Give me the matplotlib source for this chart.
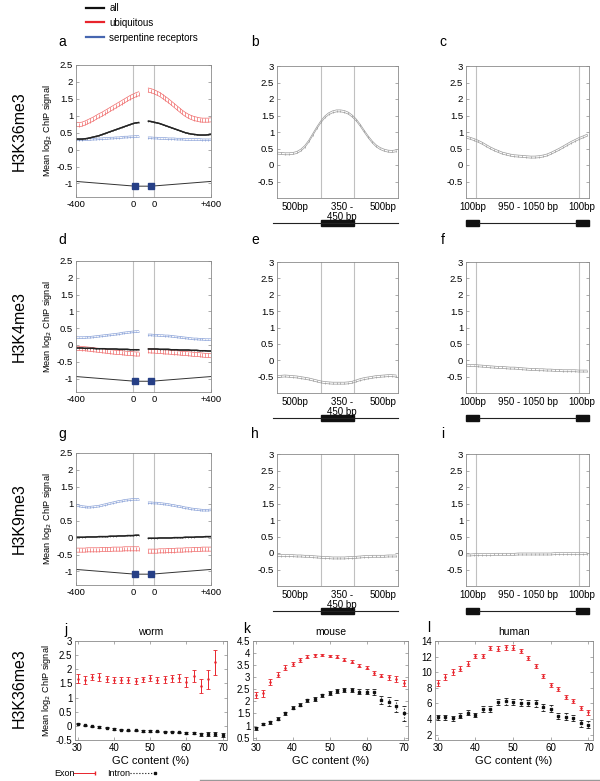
import numpy as np
import matplotlib
matplotlib.use('Agg')
import matplotlib.pyplot as plt
from matplotlib.lines import Line2D
from matplotlib.patches import Rectangle
from matplotlib.ticker import FuncFormatter

plt.rcParams['font.family'] = ['Liberation Sans', 'DejaVu Sans']

# ---------------- data ----------------
# a, d, g : distance (bp) from exon start / exon end
pos_left = np.arange(-400, 41, 20)
pos_right = np.arange(-40, 401, 20)
exon_mark_left = 15
exon_mark_right = -20

a_ubq_l = [0.75, 0.74, 0.75, 0.78, 0.82, 0.86, 0.90, 0.95, 1.00, 1.04, 1.09, 1.14, 1.19, 1.24, 1.29, 1.34, 1.39, 1.44, 1.49, 1.54, 1.58, 1.62, 1.65]
a_ubq_r = [1.76, 1.74, 1.71, 1.67, 1.63, 1.57, 1.51, 1.45, 1.38, 1.31, 1.24, 1.17, 1.10, 1.04, 0.99, 0.95, 0.92, 0.90, 0.88, 0.87, 0.87, 0.87, 0.88]
a_all_l = [0.31, 0.31, 0.31, 0.32, 0.33, 0.35, 0.37, 0.39, 0.41, 0.44, 0.47, 0.50, 0.53, 0.56, 0.59, 0.62, 0.65, 0.68, 0.71, 0.74, 0.77, 0.79, 0.80]
a_all_r = [0.84, 0.83, 0.81, 0.79, 0.77, 0.74, 0.71, 0.68, 0.65, 0.62, 0.59, 0.56, 0.53, 0.50, 0.48, 0.46, 0.45, 0.44, 0.43, 0.43, 0.43, 0.44, 0.45]
a_srp_l = [0.29, 0.29, 0.29, 0.30, 0.30, 0.30, 0.31, 0.31, 0.32, 0.32, 0.33, 0.33, 0.34, 0.34, 0.35, 0.35, 0.36, 0.37, 0.37, 0.38, 0.38, 0.39, 0.39]
a_srp_r = [0.35, 0.35, 0.34, 0.34, 0.33, 0.33, 0.33, 0.32, 0.32, 0.32, 0.31, 0.31, 0.31, 0.30, 0.30, 0.30, 0.30, 0.30, 0.30, 0.29, 0.29, 0.29, 0.29]

d_ubq_l = [-0.10, -0.10, -0.11, -0.11, -0.12, -0.13, -0.14, -0.15, -0.16, -0.17, -0.18, -0.19, -0.20, -0.21, -0.22, -0.22, -0.23, -0.24, -0.25, -0.25, -0.26, -0.27, -0.27]
d_ubq_r = [-0.17, -0.18, -0.18, -0.19, -0.19, -0.20, -0.21, -0.21, -0.22, -0.23, -0.23, -0.24, -0.25, -0.25, -0.26, -0.27, -0.28, -0.28, -0.29, -0.30, -0.31, -0.31, -0.32]
d_all_l = [-0.09, -0.09, -0.09, -0.10, -0.10, -0.10, -0.10, -0.11, -0.11, -0.11, -0.11, -0.12, -0.12, -0.12, -0.12, -0.13, -0.13, -0.13, -0.13, -0.14, -0.14, -0.14, -0.14]
d_all_r = [-0.12, -0.12, -0.12, -0.12, -0.13, -0.13, -0.13, -0.13, -0.14, -0.14, -0.14, -0.15, -0.15, -0.15, -0.15, -0.16, -0.16, -0.16, -0.17, -0.17, -0.17, -0.18, -0.18]
d_srp_l = [0.22, 0.22, 0.22, 0.22, 0.23, 0.23, 0.24, 0.25, 0.26, 0.27, 0.28, 0.29, 0.30, 0.31, 0.32, 0.33, 0.35, 0.36, 0.37, 0.38, 0.39, 0.40, 0.40]
d_srp_r = [0.30, 0.30, 0.29, 0.29, 0.28, 0.28, 0.27, 0.27, 0.26, 0.25, 0.24, 0.23, 0.22, 0.21, 0.20, 0.19, 0.18, 0.18, 0.17, 0.17, 0.16, 0.16, 0.16]

g_ubq_l = [-0.37, -0.37, -0.37, -0.37, -0.36, -0.36, -0.36, -0.36, -0.36, -0.35, -0.35, -0.35, -0.35, -0.34, -0.34, -0.34, -0.34, -0.33, -0.33, -0.33, -0.33, -0.33, -0.33]
g_ubq_r = [-0.40, -0.40, -0.40, -0.40, -0.39, -0.39, -0.39, -0.38, -0.38, -0.38, -0.37, -0.37, -0.37, -0.36, -0.36, -0.36, -0.35, -0.35, -0.35, -0.34, -0.34, -0.34, -0.34]
g_all_l = [0.01, 0.01, 0.01, 0.01, 0.02, 0.02, 0.02, 0.02, 0.03, 0.03, 0.03, 0.03, 0.04, 0.04, 0.04, 0.05, 0.05, 0.05, 0.06, 0.06, 0.06, 0.07, 0.07]
g_all_r = [-0.02, -0.02, -0.02, -0.02, -0.01, -0.01, -0.01, -0.01, -0.01, 0.00, 0.00, 0.00, 0.00, 0.01, 0.01, 0.01, 0.01, 0.02, 0.02, 0.02, 0.03, 0.03, 0.03]
g_srp_l = [0.96, 0.94, 0.92, 0.91, 0.90, 0.90, 0.91, 0.92, 0.93, 0.95, 0.97, 0.99, 1.01, 1.03, 1.05, 1.07, 1.08, 1.10, 1.11, 1.12, 1.13, 1.13, 1.13]
g_srp_r = [1.03, 1.03, 1.02, 1.02, 1.01, 1.00, 0.99, 0.98, 0.96, 0.95, 0.93, 0.92, 0.90, 0.88, 0.87, 0.85, 0.84, 0.83, 0.82, 0.81, 0.81, 0.81, 0.82]

# b, e, h : exon profile (bins) ; c, f, i : intron profile (bins)
bins = np.arange(0, 61, 2)
exon_bounds = [22, 39]
intron_bounds = [5, 56]
b_exon = [0.36, 0.35, 0.34, 0.34, 0.35, 0.38, 0.45, 0.56, 0.72, 0.92, 1.12, 1.30, 1.45, 1.55, 1.61, 1.64, 1.64, 1.62, 1.57, 1.48, 1.36, 1.20, 1.02, 0.85, 0.70, 0.58, 0.50, 0.45, 0.42, 0.41, 0.43]
c_intron = [0.85, 0.81, 0.77, 0.72, 0.66, 0.59, 0.52, 0.46, 0.41, 0.36, 0.33, 0.30, 0.28, 0.27, 0.26, 0.25, 0.24, 0.24, 0.25, 0.27, 0.30, 0.35, 0.41, 0.47, 0.54, 0.61, 0.68, 0.74, 0.80, 0.85, 0.90]
e_exon = [-0.50, -0.49, -0.48, -0.49, -0.50, -0.51, -0.53, -0.55, -0.57, -0.60, -0.63, -0.66, -0.68, -0.69, -0.70, -0.70, -0.70, -0.70, -0.69, -0.67, -0.63, -0.59, -0.56, -0.54, -0.52, -0.50, -0.49, -0.48, -0.47, -0.47, -0.48]
f_intron = [-0.15, -0.16, -0.16, -0.17, -0.18, -0.19, -0.20, -0.21, -0.22, -0.22, -0.23, -0.24, -0.24, -0.25, -0.26, -0.27, -0.28, -0.28, -0.29, -0.29, -0.30, -0.30, -0.31, -0.31, -0.32, -0.32, -0.32, -0.32, -0.33, -0.33, -0.33]
h_exon = [-0.08, -0.08, -0.08, -0.08, -0.08, -0.09, -0.09, -0.10, -0.10, -0.11, -0.12, -0.13, -0.14, -0.14, -0.15, -0.15, -0.15, -0.15, -0.14, -0.14, -0.13, -0.12, -0.11, -0.11, -0.10, -0.10, -0.10, -0.10, -0.09, -0.09, -0.09]
i_intron = [-0.06, -0.06, -0.05, -0.05, -0.05, -0.05, -0.05, -0.04, -0.04, -0.04, -0.04, -0.04, -0.04, -0.03, -0.03, -0.03, -0.03, -0.03, -0.03, -0.03, -0.03, -0.03, -0.02, -0.02, -0.02, -0.02, -0.02, -0.02, -0.02, -0.02, -0.02]

# j, k, l : GC content
gc = np.arange(30, 71, 2)
worm_exon = [1.67, 1.62, 1.73, 1.73, 1.67, 1.62, 1.62, 1.63, 1.58, 1.64, 1.69, 1.63, 1.64, 1.68, 1.68, 1.55, 1.75, 1.40, 1.64, 2.24]
worm_exon_err = [0.17, 0.15, 0.12, 0.13, 0.11, 0.11, 0.11, 0.11, 0.10, 0.10, 0.10, 0.10, 0.12, 0.12, 0.14, 0.17, 0.21, 0.25, 0.33, 0.45]
worm_intron = [0.08, 0.02, -0.01, -0.04, -0.07, -0.11, -0.13, -0.15, -0.16, -0.18, -0.18, -0.19, -0.20, -0.20, -0.23, -0.24, -0.25, -0.30, -0.29, -0.29, -0.31]
worm_intron_err = [0.02, 0.02, 0.02, 0.02, 0.02, 0.02, 0.02, 0.02, 0.02, 0.02, 0.02, 0.02, 0.02, 0.03, 0.03, 0.04, 0.04, 0.05, 0.06, 0.06, 0.07]
mouse_exon = [2.26, 2.33, 2.80, 3.10, 3.40, 3.55, 3.72, 3.85, 3.90, 3.92, 3.88, 3.85, 3.73, 3.65, 3.47, 3.40, 3.18, 3.07, 3.00, 2.93, 2.75]
mouse_exon_err = [0.13, 0.13, 0.11, 0.10, 0.09, 0.08, 0.07, 0.07, 0.06, 0.06, 0.06, 0.06, 0.06, 0.06, 0.06, 0.07, 0.07, 0.08, 0.10, 0.11, 0.13]
mouse_intron = [0.88, 1.07, 1.13, 1.29, 1.50, 1.73, 1.86, 2.04, 2.10, 2.25, 2.33, 2.43, 2.47, 2.47, 2.40, 2.40, 2.38, 2.07, 1.98, 1.80, 1.50]
mouse_intron_err = [0.05, 0.05, 0.05, 0.05, 0.06, 0.06, 0.06, 0.06, 0.07, 0.07, 0.08, 0.08, 0.09, 0.09, 0.10, 0.11, 0.13, 0.16, 0.19, 0.24, 0.30]
human_exon = [8.64, 9.36, 10.0, 10.44, 11.1, 12.07, 12.07, 13.1, 13.0, 13.2, 13.15, 12.7, 11.8, 10.8, 9.5, 8.4, 7.8, 6.8, 6.3, 5.4, 4.85]
human_exon_err = [0.35, 0.35, 0.35, 0.3, 0.3, 0.3, 0.3, 0.3, 0.3, 0.3, 0.3, 0.3, 0.3, 0.3, 0.3, 0.25, 0.25, 0.25, 0.25, 0.25, 0.3]
human_intron = [4.2, 4.2, 4.1, 4.4, 4.8, 4.5, 5.3, 5.3, 6.2, 6.3, 6.2, 6.1, 6.0, 6.0, 5.5, 5.3, 4.4, 4.3, 4.1, 3.45, 3.25]
human_intron_err = [0.3, 0.3, 0.3, 0.3, 0.3, 0.3, 0.35, 0.35, 0.4, 0.45, 0.4, 0.4, 0.4, 0.45, 0.45, 0.45, 0.4, 0.4, 0.4, 0.45, 0.45]

row_names = ['H3K36me3', 'H3K4me3', 'H3K9me3', 'H3K36me3']
species = ['worm', 'mouse', 'human']
legend_names = ['all', 'ubiquitous', 'serpentine receptors']

# ---------------- style ----------------
W, H = 600, 781
GAP = 147
C_UBQ, C_SRP, C_ALL = '#f06a6a', '#8aa2d8', '#222222'
C_LEG = ['#111111', '#e8242c', '#4666b0']
C_GRAY = '#9a9a9a'
C_VL = '#c0c0c0'
C_SPINE = '#8a8a8a'
C_SQ = '#263f86'
TICK_FS = 6.8
fmt = FuncFormatter(lambda v, p: '%g' % round(v, 2))

fig = plt.figure(figsize=(W / 100, H / 100), dpi=100)


def box(l, t, r, b):
    return [l / W, 1 - b / H, (r - l) / W, (b - t) / H]


def style(ax):
    for s in ax.spines.values():
        s.set_color(C_SPINE)
        s.set_linewidth(0.6)
    ax.tick_params(direction='in', length=2, width=0.5, color=C_SPINE,
                   labelsize=TICK_FS, pad=2, top=True, right=True)
    ax.yaxis.set_major_formatter(fmt)


def ladder(ax, x, y, e, color, lw=0.5, mid=False):
    x = np.asarray(x)
    y = np.asarray(y)
    ax.plot(x, y + e, color=color, lw=lw)
    ax.plot(x, y - e, color=color, lw=lw)
    ax.vlines(x, y - e, y + e, color=color, lw=lw)
    if mid:
        ax.plot(x, y, color=color, lw=1.0)


def boundary_panel(ax, series):
    (ubq_l, ubq_r), (all_l, all_r), (srp_l, srp_r) = series
    ax.axvline(0, color=C_VL, lw=0.8)
    ax.axvline(GAP, color=C_VL, lw=0.8)
    ladder(ax, pos_left, ubq_l, 0.06, C_UBQ)
    ladder(ax, pos_right + GAP, ubq_r, 0.06, C_UBQ)
    ladder(ax, pos_left, srp_l, 0.025, C_SRP)
    ladder(ax, pos_right + GAP, srp_r, 0.025, C_SRP)
    ladder(ax, pos_left, all_l, 0.012, C_ALL, lw=0.4, mid=True)
    ladder(ax, pos_right + GAP, all_r, 0.012, C_ALL, lw=0.4, mid=True)
    # exon schematic
    ax.plot([-400, exon_mark_left, exon_mark_right + GAP, 400 + GAP],
            [-0.94, -1.08, -1.08, -0.94], color='#333333', lw=0.7)
    ax.plot([exon_mark_left, exon_mark_right + GAP], [-1.08, -1.08], 's',
            color=C_SQ, ms=4.6)
    ax.set_xlim(-400, 400 + GAP)
    ax.set_ylim(-1.4, 2.5)
    ax.set_yticks(np.arange(-1, 2.51, 0.5))
    ax.set_xticks([-400, 0, GAP, 400 + GAP])
    ax.set_xticklabels(['-400', '0', '0', '+400'])
    style(ax)
    ax.set_ylabel('Mean log$_2$ ChIP signal', fontsize=6.6, labelpad=2)


def profile_panel(ax, y, bounds, labels, label_pos, intron):
    for bnd in bounds:
        ax.axvline(bnd, color=C_VL, lw=0.8)
    ladder(ax, bins, y, 0.03, C_GRAY, lw=0.5)
    ax.set_xlim(0, 61)
    ax.set_ylim(-1, 3)
    ax.set_yticks(np.arange(-0.5, 3.01, 0.5))
    style(ax)
    ax.set_xticks(label_pos)
    ax.set_xticklabels(labels, fontsize=7, linespacing=1.0)
    ax.tick_params(axis='x', length=0, pad=3)
    tr = ax.get_xaxis_transform()
    yl = -0.188
    hh = 0.045
    if intron:
        ax.plot([bounds[0] + 1.4, bounds[1] - 1.4], [yl, yl], color='#222222',
                lw=0.8, transform=tr, clip_on=False)
        for x0, x1 in [(0, bounds[0] + 1.4), (bounds[1] - 1.4, 61)]:
            ax.add_patch(Rectangle((x0, yl - hh / 2), x1 - x0, hh, color='#111111',
                                   transform=tr, clip_on=False))
    else:
        ax.plot([-2, 61], [yl, yl], color='#222222', lw=0.8, transform=tr,
                clip_on=False)
        ax.add_patch(Rectangle((bounds[0], yl - hh / 2), bounds[1] - bounds[0], hh,
                               color='#111111', transform=tr, clip_on=False))


rows_top = [65, 261, 453]
rows_bot = [197, 392, 585]
boundary_data = [
    [(a_ubq_l, a_ubq_r), (a_all_l, a_all_r), (a_srp_l, a_srp_r)],
    [(d_ubq_l, d_ubq_r), (d_all_l, d_all_r), (d_srp_l, d_srp_r)],
    [(g_ubq_l, g_ubq_r), (g_all_l, g_all_r), (g_srp_l, g_srp_r)],
]
exon_data = [b_exon, e_exon, h_exon]
intron_data = [c_intron, f_intron, i_intron]
letters = [['a', 'b', 'c'], ['d', 'e', 'f'], ['g', 'h', 'i']]
letter_y = [42, 240, 434]

for r in range(3):
    t, b = rows_top[r], rows_bot[r]
    ax1 = fig.add_axes(box(76, t, 211, b))
    boundary_panel(ax1, boundary_data[r])
    ax2 = fig.add_axes(box(277, t + 1, 398, b + 1))
    profile_panel(ax2, exon_data[r], exon_bounds, ['500bp', '350 -\n450 bp', '500bp'],
                  [9.1, 32.8, 53.4], intron=False)
    ax3 = fig.add_axes(box(466, t + 1, 589, b + 1))
    profile_panel(ax3, intron_data[r], intron_bounds, ['100bp', '950 - 1050 bp', '100bp'],
                  [3.5, 30.7, 57.5], intron=True)
    for lx, let in zip([62, 255, 443], letters[r]):
        fig.text(lx / W, 1 - letter_y[r] / H, let, fontsize=10, ha='center', va='center')
    fig.text(19 / W, 1 - (t + b) / 2 / H, row_names[r], rotation=90, fontsize=11.5,
             ha='center', va='center')

# bottom row
gc_data = [(worm_exon, worm_exon_err, worm_intron, worm_intron_err),
           (mouse_exon, mouse_exon_err, mouse_intron, mouse_intron_err),
           (human_exon, human_exon_err, human_intron, human_intron_err)]
gc_boxes = [(75, 227), (253, 408), (435, 593)]
gc_ylim = [(-0.5, 3), (0.4, 4.5), (1.3, 14)]
gc_yticks = [np.arange(-0.5, 3.01, 0.5), np.arange(0.5, 4.51, 0.5), np.arange(2, 14.1, 2)]
gc_letters = [('j', 66, 630), ('k', 247, 629), ('l', 429, 628)]
for k in range(3):
    l, rr = gc_boxes[k]
    ax = fig.add_axes(box(l, 641, rr, 740))
    ex, exe, it, ite = gc_data[k]
    ax.errorbar(gc[:len(ex)], ex, yerr=exe, fmt='.', ms=1.6, color='#e8242c',
                elinewidth=0.7, capsize=1.2, capthick=0.6)
    eb = ax.errorbar(gc[:len(it)], it, yerr=ite, fmt='s', ms=1.5, color='#111111',
                     elinewidth=0.8, capsize=1.2, capthick=0.6)
    eb[2][0].set_linestyle(':')
    ax.set_xlim(29.3, 71.2)
    ax.set_ylim(*gc_ylim[k])
    ax.set_yticks(gc_yticks[k])
    ax.set_xticks([30, 40, 50, 60, 70])
    style(ax)
    ax.tick_params(labelsize=7)
    ax.set_xlabel('GC content (%)', fontsize=8, labelpad=2)
    ax.set_title(species[k], fontsize=7.5, pad=4)
    let, lx, ly = gc_letters[k]
    fig.text(lx / W, 1 - ly / H, let, fontsize=10, ha='center', va='center')
    if k == 0:
        ax.set_ylabel('Mean log$_2$ ChIP signal', fontsize=6.6, labelpad=2)

fig.text(19 / W, 1 - 688 / H, row_names[3], rotation=90, fontsize=11.5,
         ha='center', va='center')

# top legend
handles = [Line2D([], [], color=c, lw=1.6) for c in C_LEG]
fig.legend(handles, legend_names, loc='upper left', bbox_to_anchor=(86 / W, 1 - 3 / H),
           frameon=False, fontsize=7, handlelength=1.8, handletextpad=0.6,
           labelspacing=0.5, borderaxespad=0, borderpad=0)

# bottom legend
ly = 1 - 773 / H
fig.text(54 / W, ly, 'Exon', fontsize=6.5, va='center', ha='left')
fig.add_artist(Line2D([74 / W, 95 / W], [ly, ly], color='#e8242c', lw=0.7,
                      marker='|', ms=3, markevery=[1]))
fig.text(107 / W, ly, 'Intron', fontsize=6.5, va='center', ha='left')
fig.add_artist(Line2D([130 / W, 155 / W], [ly, ly], color='#111111', lw=0.8,
                      ls=':', marker='s', ms=1.6, markevery=[1]))
fig.add_artist(Line2D([200 / W, 1], [1 - 780 / H, 1 - 780 / H], color='#999999', lw=1))

fig.savefig('out.png', dpi=100)
